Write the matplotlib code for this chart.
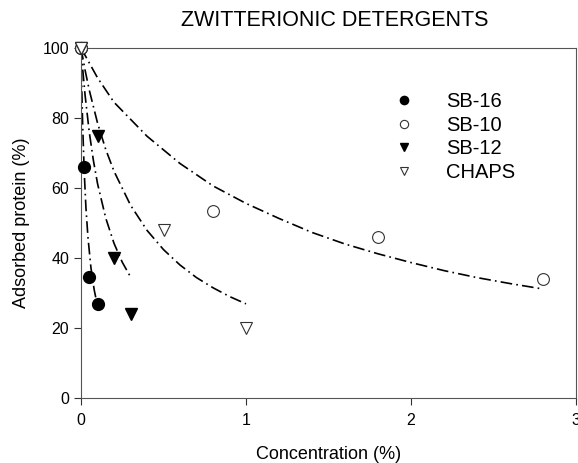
import matplotlib
matplotlib.use("Agg")
import matplotlib.pyplot as plt

plt.rcParams['font.family'] = ['Liberation Sans', 'DejaVu Sans']

# measured points
sb16_x = [0, 0.02, 0.05, 0.1]
sb16_y = [100, 66, 34.5, 27]
sb10_x = [0, 0.8, 1.8, 2.8]
sb10_y = [100, 53.5, 46, 34]
sb12_x = [0, 0.1, 0.2, 0.3]
sb12_y = [100, 75, 40, 24]
chaps_x = [0, 0.5, 1.0]
chaps_y = [100, 48, 20]

# fitted curves
sb16_fit_x = [0, 0.005, 0.01, 0.02, 0.03, 0.042, 0.06, 0.08, 0.097]
sb16_fit_y = [100, 87.7, 78.1, 64.1, 54.3, 46, 37.3, 30.9, 27]
sb12_fit_x = [0, 0.01, 0.025, 0.05, 0.075, 0.1, 0.15, 0.2, 0.25, 0.3]
sb12_fit_y = [100, 94.1, 86.4, 76, 67.9, 61.3, 51.4, 44.2, 38.8, 34.6]
chaps_fit_x = [0, 0.025, 0.05, 0.1, 0.15, 0.2, 0.3, 0.4, 0.5, 0.6, 0.7, 0.8, 0.9, 1.0]
chaps_fit_y = [100, 93.6, 88, 78.6, 71, 64.8, 55.1, 47.9, 42.4, 38, 34.4, 31.5, 29, 26.9]
sb10_fit_x = [0, 0.1, 0.2, 0.4, 0.6, 0.8, 1.0, 1.2, 1.4, 1.6, 1.8, 2.0, 2.2, 2.4, 2.6, 2.78]
sb10_fit_y = [100, 91.5, 84.5, 74.8, 67, 60.6, 55.6, 51.3, 47.3, 44, 41.2, 38.7, 36.4, 34.4, 32.7, 31.3]

x_ticks = [0, 1, 2, 3]
y_ticks = [0, 20, 40, 60, 80, 100]

fig = plt.figure(figsize=(5.78, 4.63), dpi=100)
ax = fig.add_axes([81 / 578, 1 - 398 / 463, (576 - 81) / 578, (398 - 48) / 463])

dashdot = (0, (7, 2.5, 1, 2.5))
for fx, fy in [(sb16_fit_x, sb16_fit_y), (sb12_fit_x, sb12_fit_y),
               (chaps_fit_x, chaps_fit_y), (sb10_fit_x, sb10_fit_y)]:
    ax.plot(fx, fy, color='black', lw=1.2, linestyle=dashdot, zorder=2)

ax.plot(sb16_x, sb16_y, 'o', ms=8.5, mfc='black', mec='black', ls='none',
        label='SB-16', zorder=3, clip_on=False)
ax.plot(sb10_x, sb10_y, 'o', ms=8.5, mfc='white', mec='#333333', mew=0.8, ls='none',
        label='SB-10', zorder=3, clip_on=False)
ax.plot(sb12_x, sb12_y, 'v', ms=9, mfc='black', mec='black', ls='none',
        label='SB-12', zorder=3, clip_on=False)
ax.plot(chaps_x, chaps_y, 'v', ms=9, mfc='white', mec='#333333', mew=0.8, ls='none',
        label='CHAPS', zorder=3, clip_on=False)

ax.set_xlim(0, 3)
ax.set_ylim(0, 100)
ax.set_xticks(x_ticks)
ax.set_yticks(y_ticks)
ax.tick_params(direction='out', length=5, width=0.8, labelsize=11.5, color='#333333')
ax.tick_params(axis='x', pad=6)
for s in ax.spines.values():
    s.set_linewidth(0.8)
    s.set_color('#555555')

ax.set_xlabel('Concentration (%)', fontsize=13, labelpad=13)
ax.set_ylabel('Adsorbed protein (%)', fontsize=13, labelpad=9)

ax.legend(loc='upper left', bbox_to_anchor=(0.585, 0.925), frameon=False,
          fontsize=14.5, markerscale=0.7, handletextpad=1.35, labelspacing=0.22,
          handlelength=1.5)

fig.text(335 / 578, 1 - 20 / 463, 'ZWITTERIONIC DETERGENTS', fontsize=15.5,
         ha='center', va='center')

fig.savefig('out.png', dpi=100)
